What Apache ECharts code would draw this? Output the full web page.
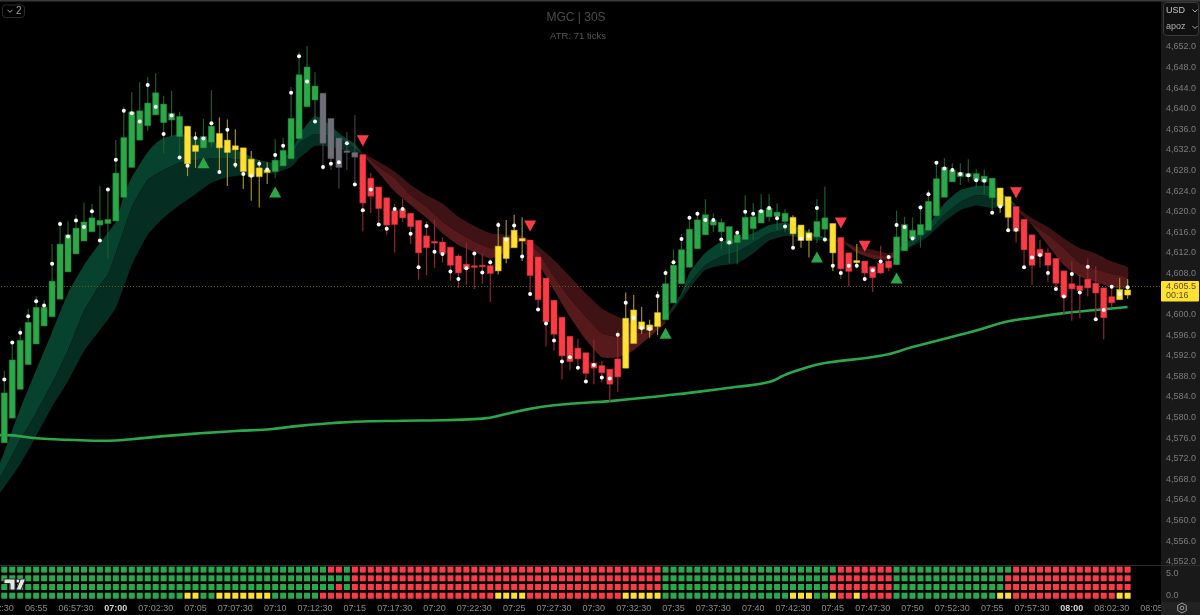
<!DOCTYPE html>
<html>

<head>
  <meta charset="utf-8" />
  <title>MGC | 30S</title>
  <style>
    html, body { margin: 0; padding: 0; background-color: #000000; }
  </style>
  <script src="https://cdn.jsdelivr.net/npm/echarts@6/dist/echarts.min.js"></script>
</head>

<body>
  <div id="main" style="width: 1200px;height:615px;"></div>
  <script type="text/javascript">
    // 30s candles, bar 0 = 06:53:00
    const opens = [
      4575.1,4579.9,4585.5,4590.3,4594.3,4597.8,4599.6,4603.0,4608.3,4611.8,
      4614.3,4616.1,4617.4,4617.7,4618.2,4622.8,4628.6,4633.9,4636.7,4638.8,
      4637.3,4637.8,4634.6,4636.6,4632.9,4632.4,4633.5,4635.2,4633.9,4632.8,
      4632.4,4630.2,4628.5,4628.1,4627.8,4628.9,4630.3,4634.2,4640.4,4641.7,
      4643.0,4638.1,4634.3,4631.8,4631.5,4631.1,4626.5,4624.8,4622.7,4620.2,
      4620.5,4619.7,4618.3,4615.3,4614.2,4614.1,4613.1,4611.4,4609.8,4609.5,
      4609.6,4609.5,4608.5,4610.9,4613.0,4614.8,4614.5,4611.2,4607.1,4602.8,
      4599.5,4595.8,4593.5,4592.6,4590.6,4590.1,4589.4,4591.4,4589.6,4594.4,
      4598.6,4598.0,4597.7,4599.0,4602.3,4606.0,4609.2,4612.8,4615.5,4617.4,
      4616.1,4613.7,4614.0,4614.6,4616.7,4617.8,4619.0,4619.1,4618.1,4618.9,
      4617.4,4615.9,4615.1,4616.6,4617.7,4615.0,4612.0,4610.5,4610.4,4609.3,
      4610.0,4610.4,4609.7,4612.4,4614.8,4615.5,4616.4,4619.2,4622.8,4625.8,
      4626.8,4626.8,4626.2,4625.8,4622.7,4624.6,4622.9,4621.0,4618.5,4615.5,
      4612.7,4612.0,4610.9,4608.5,4606.0,4605.6,4606.9,4606.1,4605.2,4603.5,
      4602.9,4604.8
    ];
    const closes = [
      4584.8,4591.2,4595.0,4598.5,4601.4,4601.4,4606.5,4613.7,4615.5,4616.8,
      4618.0,4618.8,4618.3,4618.5,4627.5,4634.4,4639.4,4639.6,4641.1,4643.1,
      4640.9,4639.1,4638.5,4629.3,4631.7,4634.6,4636.6,4632.4,4631.5,4632.0,
      4627.8,4626.8,4626.8,4627.6,4630.0,4631.9,4638.1,4646.6,4648.1,4644.4,
      4633.3,4630.3,4628.6,4631.5,4630.6,4621.7,4623.0,4620.6,4617.4,4617.5,
      4618.8,4617.1,4612.0,4613.0,4613.9,4611.9,4609.6,4608.1,4608.9,4609.2,
      4609.3,4608.0,4613.3,4615.0,4616.4,4614.3,4607.6,4602.9,4598.6,4596.2,
      4592.0,4590.9,4591.4,4588.6,4589.6,4588.7,4586.5,4587.9,4599.3,4600.9,
      4597.2,4597.0,4600.4,4606.0,4609.6,4612.6,4616.6,4618.4,4619.4,4618.3,
      4617.9,4617.1,4615.5,4618.9,4619.0,4620.3,4620.7,4619.9,4619.7,4615.7,
      4614.4,4614.4,4618.1,4618.8,4612.0,4608.9,4608.4,4610.1,4608.1,4607.2,
      4608.1,4609.1,4615.1,4617.5,4616.4,4617.5,4622.0,4626.4,4628.6,4628.1,
      4627.6,4627.4,4627.4,4626.9,4626.5,4621.1,4618.9,4616.2,4612.6,4609.6,
      4611.4,4609.6,4606.1,4603.4,4605.0,4604.7,4605.2,4604.2,4599.4,4602.3,
      4604.9,4603.8
    ];
    const highs = [
      4589.1,4594.7,4597.5,4601.1,4603.6,4602.8,4613.7,4618.2,4618.1,4619.4,
      4621.8,4621.5,4625.0,4624.5,4633.9,4640.4,4643.2,4645.2,4646.1,4646.9,
      4642.5,4643.5,4639.4,4636.6,4635.5,4638.0,4643.6,4638.3,4637.9,4636.0,
      4632.4,4631.8,4630.0,4629.6,4634.1,4634.3,4644.2,4651.0,4652.2,4647.1,
      4643.0,4638.1,4634.3,4635.5,4638.8,4631.1,4627.5,4624.8,4622.7,4621.5,
      4622.5,4619.7,4618.3,4618.1,4618.5,4615.0,4613.1,4611.7,4614.0,4612.1,
      4611.9,4610.8,4618.0,4618.4,4619.4,4618.9,4614.5,4611.2,4607.1,4602.8,
      4599.5,4595.8,4595.3,4592.6,4595.1,4591.0,4589.4,4596.8,4604.3,4603.8,
      4601.5,4599.0,4604.5,4608.8,4612.7,4615.7,4619.2,4620.1,4622.4,4619.7,
      4618.7,4617.1,4616.4,4623.2,4621.7,4623.4,4623.4,4621.6,4620.5,4619.3,
      4617.4,4616.6,4622.4,4624.9,4617.7,4615.0,4612.0,4613.7,4610.4,4609.3,
      4613.4,4611.4,4620.2,4619.0,4618.9,4621.3,4624.2,4629.8,4630.4,4629.4,
      4629.4,4630.2,4628.3,4628.2,4626.5,4624.6,4622.9,4621.0,4618.5,4615.5,
      4614.5,4612.9,4610.9,4608.5,4610.4,4607.8,4610.9,4609.4,4605.2,4605.8,
      4607.1,4606.9
    ];
    const lows = [
      4575.1,4579.9,4585.5,4590.3,4594.3,4597.8,4599.6,4603.0,4608.3,4611.8,
      4614.3,4616.1,4614.2,4610.8,4618.2,4622.8,4628.6,4633.9,4635.7,4638.8,
      4631.3,4634.5,4630.0,4626.9,4628.5,4632.4,4632.5,4627.3,4625.0,4628.5,
      4624.4,4622.1,4620.8,4625.4,4626.5,4628.9,4630.3,4634.2,4640.4,4637.5,
      4628.1,4628.1,4624.5,4628.1,4625.0,4616.2,4619.7,4617.2,4615.5,4612.0,
      4618.0,4613.7,4606.8,4607.7,4609.1,4610.1,4606.6,4605.2,4605.8,4605.0,
      4606.0,4602.5,4607.8,4610.0,4613.0,4610.4,4604.0,4600.9,4593.8,4593.0,
      4587.4,4589.2,4589.4,4586.7,4586.5,4586.8,4583.1,4585.0,4589.6,4594.4,
      4596.3,4595.5,4596.0,4599.0,4602.3,4606.0,4609.2,4612.8,4615.5,4616.0,
      4612.6,4610.0,4609.8,4614.6,4614.6,4617.8,4618.1,4616.4,4616.0,4613.0,
      4613.0,4611.1,4613.9,4614.0,4608.5,4606.9,4605.4,4609.0,4606.5,4604.4,
      4607.9,4608.5,4609.7,4612.4,4614.5,4613.0,4616.4,4619.2,4622.8,4625.8,
      4625.2,4625.8,4624.5,4623.4,4619.8,4619.8,4616.3,4614.0,4608.8,4605.8,
      4609.1,4606.4,4604.6,4600.0,4598.8,4599.3,4603.5,4599.0,4595.2,4601.5,
      4602.9,4603.1
    ];
    // small white dot on every bar
    const dots = [
      4587.4,4594.6,4596.5,4599.7,4602.6,4601.8,4609.9,4617.6,4615.2,4618.3,
      4617.0,4620.1,4614.4,4624.3,4630.1,4639.6,4639.1,4637.5,4644.6,4640.4,
      4635.1,4638.7,4630.5,4628.9,4634.3,4634.2,4637.2,4627.7,4635.9,4629.1,
      4627.3,4627.0,4629.3,4628.2,4631.0,4632.8,4643.1,4650.2,4645.3,4637.5,
      4628.7,4629.3,4629.6,4633.3,4625.3,4620.3,4624.3,4617.5,4616.7,4620.5,
      4620.5,4615.7,4609.2,4617.2,4612.2,4611.8,4608.4,4606.9,4609.0,4611.9,
      4608.2,4610.2,4617.4,4614.6,4617.3,4611.3,4604.0,4601.0,4598.3,4595.0,
      4590.9,4591.7,4589.7,4587.0,4590.2,4587.8,4587.6,4596.1,4602.3,4599.4,
      4597.4,4597.2,4603.6,4608.1,4610.2,4614.7,4618.8,4619.6,4618.4,4618.4,
      4614.6,4614.0,4615.9,4620.0,4619.6,4620.1,4620.7,4618.7,4617.1,4613.0,
      4614.8,4615.3,4620.7,4614.6,4609.5,4608.1,4609.5,4609.5,4606.9,4608.6,
      4610.3,4611.2,4617.4,4617.0,4614.8,4620.8,4623.4,4629.5,4628.4,4628.1,
      4627.3,4627.1,4626.1,4626.0,4619.8,4621.0,4616.4,4616.5,4609.2,4611.1,
      4611.6,4608.1,4605.0,4603.5,4607.9,4604.3,4609.3,4599.1,4600.9,4605.4,
      4604.0,4605.3
    ];

    // state runs: [state, number of bars]
    const candleRuns = [['g',23],['y',2],['g',2],['y',7],['g',6],['x',5],['r',17],['y',4],['r',12],['y',5],['g',16],['y',3],['g',2],['y',1],['r',2],['y',1],['r',4],['g',13],['y',2],['r',13],['y',2]];
    const heatRow1 = [['g',41],['r',2],['g',1],['r',39],['g',22],['r',7],['g',15],['r',15]];
    const heatRow2 = [['g',44],['r',39],['g',21],['r',8],['g',14],['r',16]];
    const heatRow3 = [['g',42],['r',1],['g',1],['r',39],['g',21],['r',8],['g',14],['r',16]];
    const heatRow4 = [['g',23],['y',2],['g',2],['y',7],['g',6],['r',22],['y',4],['r',12],['y',5],['g',16],['y',3],['g',2],['y',1],['r',2],['y',1],['r',4],['g',13],['y',2],['r',13],['y',2]];
    const heatLevels = [6, 4, 2, 0];

    // long moving average, [bar, price]
    const slowLine = [[-1,4576.6],[0,4576.6],[4,4576.0],[8,4575.7],[13,4575.5],[16,4575.8],[20,4576.4],[25,4577.0],[29,4577.4],[33,4577.7],[37,4578.4],[41,4578.9],[44,4579.2],[50,4579.4],[55,4579.5],[60,4579.8],[63,4580.7],[66,4581.7],[69,4582.4],[72,4582.8],[76,4583.2],[83,4584.3],[87,4585.0],[92,4586.0],[96,4586.9],[98,4588.3],[100,4589.4],[103,4590.6],[110,4592.0],[114,4593.7],[119,4595.7],[122,4596.9],[126,4598.7],[129,4599.4],[133,4600.3],[137,4600.9],[141,4601.5]];

    // ribbon edges, [bar, price]
    const greenA = {
      top: [[-1,4569.2],[0,4573.3],[2,4581.7],[4,4589.2],[6,4596.6],[8,4604.2],[10,4609.6],[12,4613.9],[14,4618.0],[15,4623.2],[16,4626.7],[18,4631.6],[19,4633.3],[20,4634.3],[22,4635.1],[24,4634.5],[26,4633.7],[28,4632.6],[30,4631.4],[32,4630.0],[34,4629.6],[36,4631.6],[37,4634.9],[38,4637.0],[39,4638.6],[40,4638.0],[41,4636.5],[42,4635.3],[43,4634.1],[44,4633.2],[45,4631.2]],
      mid: [[-1,4567.5],[0,4569.8],[2,4575.7],[4,4580.9],[6,4586.7],[8,4593.1],[10,4600.7],[12,4605.8],[13,4607.7],[15,4616.4],[16,4620.9],[18,4626.2],[20,4628.1],[22,4629.5],[24,4630.0],[26,4630.4],[28,4630.4],[30,4630.0],[32,4629.5],[34,4629.6],[36,4631.0],[37,4633.3],[38,4634.3],[39,4635.1],[41,4634.7],[43,4633.3],[45,4631.2]],
      low: [[-1,4564.6],[0,4566.5],[2,4571.0],[4,4576.4],[6,4582.1],[8,4587.1],[10,4592.9],[12,4597.0],[14,4601.3],[16,4609.6],[18,4615.5],[20,4618.8],[22,4621.3],[24,4623.4],[26,4625.6],[28,4626.7],[30,4627.1],[32,4627.3],[34,4627.5],[36,4628.7],[37,4630.4],[38,4631.6],[39,4632.8],[41,4632.6],[43,4631.8],[45,4631.2]]
    };
    const redA = {
      top: [[45,4631.4],[47,4629.7],[49,4627.8],[51,4625.2],[53,4623.2],[55,4621.6],[57,4619.0],[59,4617.2],[61,4615.8],[63,4615.5],[65,4615.3],[67,4613.3],[69,4610.6],[71,4607.4],[73,4604.1],[75,4601.2],[77,4599.6],[79,4598.0],[81,4597.7],[83,4599.0]],
      mid: [[45,4631.2],[47,4628.7],[49,4626.5],[51,4623.2],[53,4620.9],[55,4618.1],[57,4615.9],[59,4614.2],[61,4612.9],[63,4613.2],[65,4614.6],[67,4612.2],[69,4607.4],[71,4603.2],[73,4599.6],[75,4596.4],[77,4595.7],[79,4596.4],[81,4596.7],[83,4598.6]],
      low: [[45,4631.0],[47,4627.5],[49,4623.9],[51,4621.3],[53,4618.8],[55,4615.8],[57,4613.5],[59,4612.2],[61,4610.9],[63,4612.2],[65,4614.4],[67,4610.0],[69,4604.8],[71,4599.6],[73,4595.1],[75,4591.7],[77,4591.7],[79,4593.1],[81,4595.7],[83,4598.4]]
    };
    const greenB = {
      top: [[83,4599.4],[85,4604.1],[86,4608.1],[88,4612.0],[90,4614.2],[92,4614.8],[94,4615.8],[96,4617.4],[98,4617.9],[100,4616.8],[102,4615.5],[104,4614.5],[105,4614.4]],
      mid: [[83,4599.0],[85,4603.5],[86,4606.1],[88,4609.6],[90,4611.3],[92,4612.2],[94,4613.9],[96,4615.8],[98,4616.4],[100,4615.8],[102,4615.0],[104,4614.4],[105,4614.3]],
      low: [[83,4598.8],[85,4603.0],[86,4605.1],[88,4608.7],[90,4609.6],[92,4610.0],[94,4611.9],[96,4614.4],[98,4615.3],[100,4615.0],[102,4614.5],[104,4614.2],[105,4614.2]]
    };
    const redB = {
      top: [[105,4614.5],[107,4613.2],[109,4612.6],[111,4611.9],[112,4612.2]],
      mid: [[105,4614.4],[107,4612.7],[109,4611.8],[111,4611.3],[112,4612.0]],
      low: [[105,4614.4],[107,4612.0],[109,4610.9],[111,4610.6],[112,4611.6]]
    };
    const greenC = {
      top: [[112,4612.6],[114,4614.8],[116,4617.4],[118,4621.6],[120,4624.2],[122,4625.0],[124,4624.9],[126,4622.6],[127,4621.3]],
      mid: [[112,4612.2],[114,4613.5],[116,4616.1],[118,4619.4],[120,4621.9],[122,4623.2],[124,4622.9],[126,4621.9],[127,4621.1]],
      low: [[112,4612.0],[114,4613.3],[116,4615.3],[118,4618.1],[120,4620.3],[122,4621.2],[124,4620.7],[126,4621.3],[127,4621.0]]
    };
    const redC = {
      top: [[127,4620.9],[129,4618.7],[131,4617.0],[133,4614.8],[135,4612.9],[137,4611.9],[139,4610.3],[141,4609.2]],
      mid: [[127,4620.7],[129,4617.7],[131,4615.5],[133,4612.9],[135,4610.0],[137,4608.8],[139,4607.9],[141,4607.1]],
      low: [[127,4620.5],[129,4617.4],[131,4613.5],[133,4609.6],[135,4607.4],[137,4606.4],[139,4605.3],[141,4605.1]]
    };

    // entry signals, [bar, price]
    const buySignals = [[25,4629.5],[34,4623.8],[83,4596.4],[102,4611.2],[112,4607.1]];
    const sellSignals = [[45,4633.8],[66,4617.2],[105,4617.8],[108,4613.3],[127,4623.7]];

    const lastPrice = 4605.5;

    const priceTicks = [4552,4556,4560,4564,4568,4572,4576,4580,4584,4588,4592,4596,4600,4604,4608,4612,4616,4620,4624,4628,4632,4636,4640,4644,4648,4652];
    const timeBars = [-1,4,9,14,19,24,29,34,39,44,49,54,59,64,69,74,79,84,89,94,99,104,109,114,119,124,129,134,139,144];
    const timeLabels = ['06:52:30','06:55','06:57:30','07:00','07:02:30','07:05','07:07:30','07:10','07:12:30','07:15','07:17:30','07:20','07:22:30','07:25','07:27:30','07:30','07:32:30','07:35','07:37:30','07:40','07:42:30','07:45','07:47:30','07:50','07:52:30','07:55','07:57:30','08:00','08:02:30','08:05'];

    const uiFont = '"Liberation Sans", sans-serif';
    const bodyColors = { g: '#2ba84a', r: '#fb3c47', y: '#ffe033', x: '#6f6f78' };
    const edgeColors = { g: '#22853b', r: '#c7323b', y: '#cdb42c', x: '#585860' };
    const wickColors = { g: '#1a5c2e', r: '#8f2530', y: '#a08c2a', x: '#3e3e44' };
    const greenLight = '#07422f', greenDark = '#052d22';
    const redLight = '#561a1c', redDark = '#3f1315';

    function expandRuns(runs) {
      let out = [];
      runs.forEach(function (r) {
        for (let k = 0; k < r[1]; k++) out.push(r[0]);
      });
      return out;
    }

    const candleStates = expandRuns(candleRuns);
    const candleData = opens.map(function (o, i) {
      return [i, o, closes[i], lows[i], highs[i]];
    });
    const dotData = dots.map(function (d, i) { return [i, d]; });

    let heatData = [];
    [heatRow1, heatRow2, heatRow3, heatRow4].forEach(function (runs, r) {
      expandRuns(runs).forEach(function (s, i) {
        heatData.push({ value: [i, heatLevels[r]], itemStyle: { color: bodyColors[s], opacity: 1 } });
      });
    });

    function renderCandle(params, api) {
      let i = api.value(0);
      let state = candleStates[i];
      let hi = api.coord([i, api.value(4)]);
      let lo = api.coord([i, api.value(3)]);
      let a = api.coord([i, Math.max(api.value(1), api.value(2))]);
      let b = api.coord([i, Math.min(api.value(1), api.value(2))]);
      let w = 6;
      return {
        type: 'group',
        children: [
          { type: 'line', shape: { x1: hi[0], y1: hi[1], x2: lo[0], y2: lo[1] }, style: { stroke: wickColors[state], lineWidth: 1.2 } },
          { type: 'rect', shape: { x: a[0] - w / 2, y: a[1], width: w, height: Math.max(b[1] - a[1], 1.5) }, style: { fill: bodyColors[state], stroke: edgeColors[state], lineWidth: 0.5 } }
        ]
      };
    }

    // filled band between two ribbon edges
    function bandSeries(upper, lower, color) {
      return {
        type: 'custom',
        xAxisIndex: 0,
        yAxisIndex: 0,
        z: 1,
        silent: true,
        clip: true,
        data: [upper[0]],
        renderItem: function (params, api) {
          let pts = upper.concat(lower.slice().reverse()).map(function (p) { return api.coord(p); });
          return { type: 'polygon', shape: { points: pts, smooth: 0.15 }, style: { fill: color } };
        }
      };
    }

    function axisText(x, y, text, color, size, align) {
      return { type: 'text', x: x, y: y, z: 200, silent: true, style: { text: text, fill: color, font: size + 'px ' + uiFont, align: align || 'left', verticalAlign: 'middle' } };
    }

    function chevron(x, y, color) {
      return { type: 'polyline', z: 200, silent: true, shape: { points: [[x - 2.5, y - 1], [x, y + 1.5], [x + 2.5, y - 1]] }, style: { stroke: color, lineWidth: 1, fill: null } };
    }

    var myChart = echarts.init(document.getElementById('main'));

    var option = {
      animation: false,
      backgroundColor: '#000000',
      grid: [
        { left: -8, right: 39, top: 4, height: 561, outerBoundsMode: 'none' },
        { left: -8, right: 39, top: 566, height: 36, outerBoundsMode: 'none' }
      ],
      xAxis: [
        {
          type: 'value', gridIndex: 0, min: -1.544, max: 145.19,
          axisLine: { show: false }, axisTick: { show: false }, axisLabel: { show: false }, splitLine: { show: false }
        },
        {
          type: 'value', gridIndex: 1, min: -1.544, max: 145.19,
          axisLine: { show: false }, axisTick: { show: false }, splitLine: { show: false },
          axisLabel: {
            customValues: timeBars,
            margin: 2,
            fontFamily: uiFont,
            fontSize: 9,
            color: '#8a8a8a',
            hideOverlap: false,
            formatter: function (v) {
              let t = timeLabels[timeBars.indexOf(v)];
              return (t === '07:00' || t === '08:00') ? '{b|' + t + '}' : t;
            },
            rich: { b: { color: '#d2d2d2', fontWeight: 'bold', fontSize: 9, fontFamily: uiFont } }
          }
        }
      ],
      yAxis: [
        {
          type: 'value', gridIndex: 0, position: 'right', min: 4551.37, max: 4660.34,
          axisLine: { show: false }, axisTick: { show: false }, splitLine: { show: false },
          axisLabel: {
            customValues: priceTicks,
            margin: 5,
            fontFamily: uiFont,
            fontSize: 9,
            color: '#7c7c7c',
            formatter: function (v) {
              return v.toLocaleString('en-US', { minimumFractionDigits: 1, maximumFractionDigits: 1 });
            }
          }
        },
        {
          type: 'value', gridIndex: 1, position: 'right', min: -1.45, max: 6.83,
          axisLine: { show: false }, axisTick: { show: false }, splitLine: { show: false },
          axisLabel: {
            customValues: [0, 5],
            margin: 5,
            fontFamily: uiFont,
            fontSize: 9,
            color: '#7c7c7c',
            formatter: function (v) { return v.toFixed(1); }
          }
        }
      ],
      series: [
        bandSeries(greenA.top, greenA.mid, greenLight),
        bandSeries(greenA.mid, greenA.low, greenDark),
        bandSeries(redA.top, redA.mid, redDark),
        bandSeries(redA.mid, redA.low, redLight),
        bandSeries(greenB.top, greenB.mid, greenLight),
        bandSeries(greenB.mid, greenB.low, greenDark),
        bandSeries(redB.top, redB.mid, redDark),
        bandSeries(redB.mid, redB.low, redLight),
        bandSeries(greenC.top, greenC.mid, greenLight),
        bandSeries(greenC.mid, greenC.low, greenDark),
        bandSeries(redC.top, redC.mid, redDark),
        bandSeries(redC.mid, redC.low, redLight),
        {
          type: 'line',
          data: slowLine,
          smooth: 0.5,
          showSymbol: false,
          z: 2,
          silent: true,
          lineStyle: { color: '#2ba84a', width: 2.6 },
          markLine: {
            silent: true,
            symbol: 'none',
            z: 2,
            label: { show: false },
            lineStyle: { color: '#6a5a1e', type: [1, 2], width: 1 },
            data: [{ yAxis: lastPrice }]
          }
        },
        {
          type: 'custom',
          data: candleData,
          renderItem: renderCandle,
          encode: { x: 0, y: [1, 2, 3, 4] },
          z: 3,
          silent: true
        },
        {
          type: 'scatter',
          data: dotData,
          symbol: 'circle',
          symbolSize: 4,
          itemStyle: { color: '#ffffff', opacity: 1 },
          z: 4,
          silent: true
        },
        {
          type: 'scatter',
          data: buySignals,
          symbol: 'triangle',
          symbolSize: [12, 11],
          itemStyle: { color: '#2ba84a', opacity: 1 },
          z: 5,
          silent: true
        },
        {
          type: 'scatter',
          data: sellSignals,
          symbol: 'triangle',
          symbolRotate: 180,
          symbolSize: [12, 11],
          itemStyle: { color: '#fb3c47', opacity: 1 },
          z: 5,
          silent: true
        },
        {
          type: 'scatter',
          xAxisIndex: 1,
          yAxisIndex: 1,
          data: heatData,
          symbol: 'rect',
          symbolSize: 6,
          z: 3,
          silent: true
        }
      ],
      graphic: [
        // price scale panel
        { type: 'rect', z: -1, silent: true, shape: { x: 1161, y: 0, width: 39, height: 602 }, style: { fill: '#191919' } },
        { type: 'rect', z: 150, silent: true, shape: { x: 1161, y: 602, width: 39, height: 13 }, style: { fill: '#222222' } },
        { type: 'rect', z: 150, silent: true, shape: { x: 0, y: 0, width: 1200, height: 1.4 }, style: { fill: '#3a3a3a' } },
        { type: 'rect', z: 150, silent: true, shape: { x: 0, y: 565, width: 1200, height: 1 }, style: { fill: '#2c2c2c' } },
        // title
        axisText(576, 18, 'MGC | 30S', '#4c4c4c', 12, 'center'),
        axisText(578, 36, 'ATR: 71 ticks', '#565656', 9.5, 'center'),
        // collapse button
        { type: 'rect', z: 200, silent: true, shape: { x: 2.5, y: 5, width: 22, height: 12.5, r: 3 }, style: { fill: '#000', stroke: '#2a2a2a', lineWidth: 1 } },
        chevron(10, 10.8, '#a8a8a8'),
        axisText(16, 11.5, '2', '#a0a0a0', 10),
        // currency / account box
        { type: 'rect', z: 200, silent: true, shape: { x: 1163.5, y: 2.5, width: 35, height: 33, r: 3 }, style: { fill: '#111', stroke: '#3a3a3a', lineWidth: 1 } },
        axisText(1166, 10.8, 'USD', '#c4c4c4', 9),
        chevron(1195, 10.5, '#a8a8a8'),
        axisText(1166, 27, 'apoz', '#b0b0b0', 9),
        chevron(1195, 27, '#a8a8a8'),
        // last price tag
        { type: 'rect', z: 200, silent: true, shape: { x: 1161, y: 281, width: 38, height: 20.5, r: 1 }, style: { fill: '#ffe033' } },
        axisText(1166, 286.5, '4,605.5', '#5a4f1a', 9),
        axisText(1166, 295.8, '00:16', '#5a4f1a', 9),
        // settings gear
        { type: 'polygon', z: 200, silent: true, shape: { points: [[1182, 603], [1186.3, 605.5], [1186.3, 610.5], [1182, 613], [1177.7, 610.5], [1177.7, 605.5]] }, style: { fill: 'none', stroke: '#a0a0a0', lineWidth: 1 } },
        { type: 'circle', z: 200, silent: true, shape: { cx: 1182, cy: 608, r: 1.8 }, style: { fill: 'none', stroke: '#a0a0a0', lineWidth: 1 } },
        // watermark logo
        { type: 'polygon', z: 200, silent: true, shape: { points: [[4, 579], [15, 579], [15, 590], [10, 590], [10, 583.5], [4, 583.5]] }, style: { fill: '#e6e6e6', stroke: '#2a2a2a', lineWidth: 1 } },
        { type: 'circle', z: 200, silent: true, shape: { cx: 18, cy: 581, r: 2 }, style: { fill: '#e6e6e6', stroke: '#2a2a2a', lineWidth: 1 } },
        { type: 'polygon', z: 200, silent: true, shape: { points: [[20.5, 579], [25.5, 579], [21, 590], [16, 590]] }, style: { fill: '#e6e6e6', stroke: '#2a2a2a', lineWidth: 1 } }
      ]
    };
    myChart.setOption(option);
  </script>
</body>

</html>
